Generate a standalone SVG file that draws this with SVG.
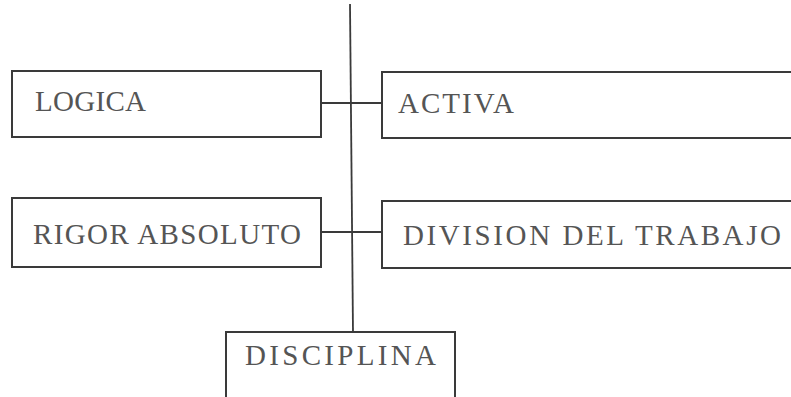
<svg xmlns="http://www.w3.org/2000/svg" width="791" height="397" viewBox="0 0 791 397">
<style>
.box{fill:none;stroke:#3a3a3a;stroke-width:2}
.ln{fill:none;stroke:#3a3a3a;stroke-width:1.8}
.t{font-family:"Liberation Serif","Times New Roman",serif;font-size:29px;fill:#555}
</style>
<rect width="791" height="397" fill="#fff"/>
<g id="connectors">
<path class="ln" d="M350 4 L353 332"/>
<path class="ln" d="M321 103 H382"/>
<path class="ln" d="M321 232 H382"/>
</g>
<g id="logica">
<rect class="box" x="12" y="71" width="309" height="66"/>
<text class="t" x="35" y="111" textLength="111" lengthAdjust="spacing">LOGICA</text>
</g>
<g id="activa">
<path class="box" d="M795 72 H382 V138 H795"/>
<text class="t" x="398" y="113" textLength="116" lengthAdjust="spacing">ACTIVA</text>
</g>
<g id="rigor">
<rect class="box" x="12" y="198" width="309" height="69"/>
<text class="t" x="33" y="244" textLength="268" lengthAdjust="spacing">RIGOR ABSOLUTO</text>
</g>
<g id="division">
<path class="box" d="M795 201 H382 V268 H795"/>
<text class="t" x="403" y="245" textLength="378" lengthAdjust="spacing">DIVISION DEL TRABAJO</text>
</g>
<g id="disciplina">
<path class="box" d="M226 400 V332 H455 V400"/>
<text class="t" x="245" y="365" textLength="191" lengthAdjust="spacing">DISCIPLINA</text>
</g>
</svg>
